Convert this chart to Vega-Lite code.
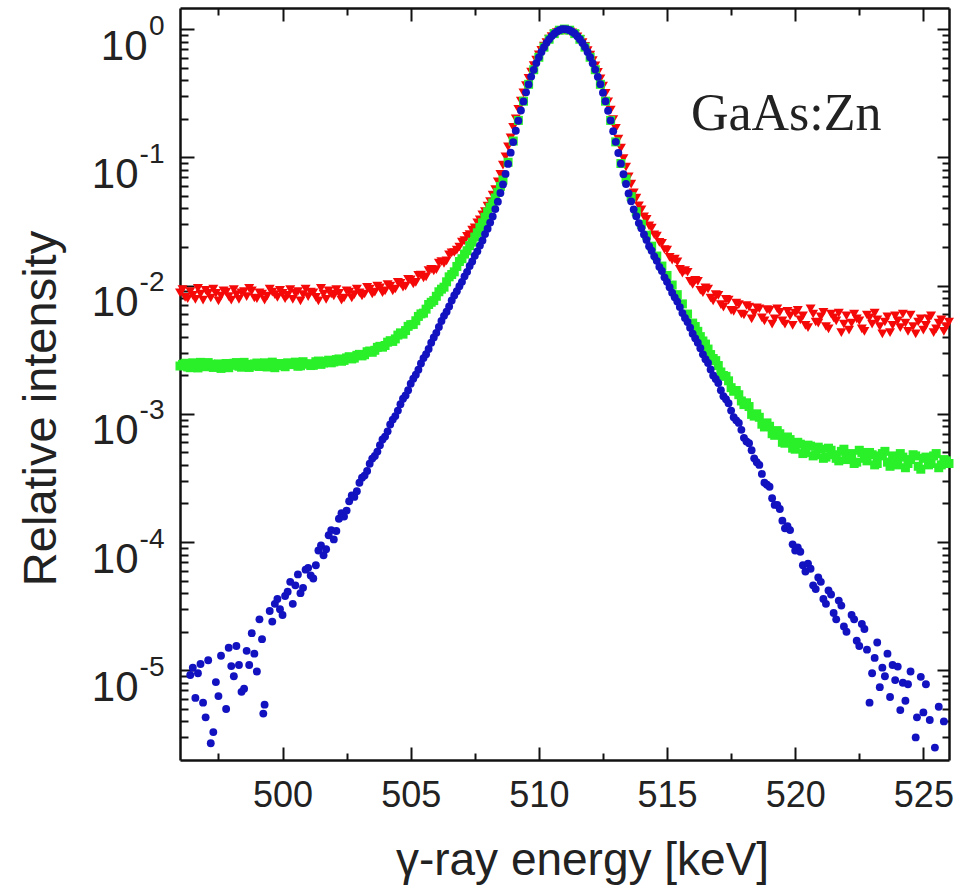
{
"$schema":"https://vega.github.io/schema/vega-lite/v6.json",
"width":769,"height":752,
"autosize":{"type":"none"},
"padding":{"left":180,"top":8,"right":24,"bottom":128},
"background":"white",
"config":{"view":{"stroke":null},"axis":{"grid":false,"domainColor":"#111111","domainWidth":2.5,"tickColor":"#111111","tickWidth":2,"labelFont":"Liberation Sans","titleFont":"Liberation Sans","labelColor":"#222222","titleColor":"#222222","titleFontWeight":"normal","labelOverlap":false,"labelFlush":false,"labelBound":false}},
"data":{"values":[
{"E":496.0,"S":"A","I":0.0088},{"E":496.2,"S":"A","I":0.0081},{"E":496.4,"S":"A","I":0.0090},{"E":496.6,"S":"A","I":0.0078},{"E":496.8,"S":"A","I":0.0086},{"E":497.0,"S":"A","I":0.0092},{"E":497.2,"S":"A","I":0.0080},{"E":497.4,"S":"A","I":0.0087},{"E":497.6,"S":"A","I":0.0083},{"E":497.8,"S":"A","I":0.0089},
{"E":498.0,"S":"A","I":0.0077},{"E":498.2,"S":"A","I":0.0085},{"E":498.4,"S":"A","I":0.0088},{"E":498.6,"S":"A","I":0.0082},{"E":498.8,"S":"A","I":0.0091},{"E":499.0,"S":"A","I":0.0079},{"E":499.2,"S":"A","I":0.0086},{"E":499.4,"S":"A","I":0.0083},{"E":499.6,"S":"A","I":0.0089},{"E":499.8,"S":"A","I":0.0081},
{"E":500.0,"S":"A","I":0.0087},{"E":500.2,"S":"A","I":0.0084},{"E":500.4,"S":"A","I":0.0078},{"E":500.6,"S":"A","I":0.0090},{"E":500.8,"S":"A","I":0.0085},{"E":501.0,"S":"A","I":0.0082},{"E":501.2,"S":"A","I":0.0088},{"E":501.4,"S":"A","I":0.0076},{"E":501.6,"S":"A","I":0.0086},{"E":501.8,"S":"A","I":0.0091},
{"E":502.0,"S":"A","I":0.0083},{"E":502.2,"S":"A","I":0.0087},{"E":502.4,"S":"A","I":0.0080},{"E":502.6,"S":"A","I":0.0089},{"E":502.8,"S":"A","I":0.0085},{"E":503.0,"S":"A","I":0.0088},{"E":503.2,"S":"A","I":0.0086},{"E":503.4,"S":"A","I":0.0094},{"E":503.6,"S":"A","I":0.0089},{"E":503.8,"S":"A","I":0.0096},
{"E":504.0,"S":"A","I":0.0091},{"E":504.2,"S":"A","I":0.0099},{"E":504.4,"S":"A","I":0.0094},{"E":504.6,"S":"A","I":0.0104},{"E":504.8,"S":"A","I":0.0099},{"E":505.0,"S":"A","I":0.0111},{"E":505.2,"S":"A","I":0.0106},{"E":505.4,"S":"A","I":0.0121},{"E":505.6,"S":"A","I":0.0117},{"E":505.8,"S":"A","I":0.0134},
{"E":506.0,"S":"A","I":0.0133},{"E":506.2,"S":"A","I":0.0154},{"E":506.4,"S":"A","I":0.0156},{"E":506.6,"S":"A","I":0.0180},{"E":506.8,"S":"A","I":0.0189},
{"E":496.1,"S":"A","I":0.0093},{"E":496.3,"S":"A","I":0.0079},{"E":496.5,"S":"A","I":0.0084},{"E":496.7,"S":"A","I":0.0095},{"E":496.9,"S":"A","I":0.0077},{"E":497.1,"S":"A","I":0.0087},{"E":497.3,"S":"A","I":0.0094},{"E":497.5,"S":"A","I":0.0076},{"E":497.7,"S":"A","I":0.0091},{"E":497.9,"S":"A","I":0.0082},
{"E":498.1,"S":"A","I":0.0093},{"E":498.3,"S":"A","I":0.0078},{"E":498.5,"S":"A","I":0.0090},{"E":498.7,"S":"A","I":0.0095},{"E":498.9,"S":"A","I":0.0080},{"E":499.1,"S":"A","I":0.0088},{"E":499.3,"S":"A","I":0.0077},{"E":499.5,"S":"A","I":0.0094},{"E":499.7,"S":"A","I":0.0085},{"E":499.9,"S":"A","I":0.0092},
{"E":500.1,"S":"A","I":0.0079},{"E":500.3,"S":"A","I":0.0093},{"E":500.5,"S":"A","I":0.0087},{"E":500.7,"S":"A","I":0.0076},{"E":500.9,"S":"A","I":0.0094},{"E":501.1,"S":"A","I":0.0089},{"E":501.3,"S":"A","I":0.0081},{"E":501.5,"S":"A","I":0.0095},{"E":501.7,"S":"A","I":0.0078},{"E":501.9,"S":"A","I":0.0086},
{"E":502.1,"S":"A","I":0.0093},{"E":502.3,"S":"A","I":0.0077},{"E":502.5,"S":"A","I":0.0091},{"E":502.7,"S":"A","I":0.0080},{"E":502.9,"S":"A","I":0.0094},{"E":503.1,"S":"A","I":0.0083},{"E":503.3,"S":"A","I":0.0097},{"E":503.5,"S":"A","I":0.0086},{"E":503.7,"S":"A","I":0.0099},{"E":503.9,"S":"A","I":0.0088},
{"E":504.1,"S":"A","I":0.0102},{"E":504.3,"S":"A","I":0.0091},{"E":504.5,"S":"A","I":0.0106},{"E":504.7,"S":"A","I":0.0097},{"E":504.9,"S":"A","I":0.0112},{"E":505.1,"S":"A","I":0.0103},{"E":505.3,"S":"A","I":0.0120},{"E":505.5,"S":"A","I":0.0115},{"E":505.7,"S":"A","I":0.0131},{"E":505.9,"S":"A","I":0.0130},
{"E":506.1,"S":"A","I":0.0150},{"E":506.3,"S":"A","I":0.0149},{"E":506.5,"S":"A","I":0.0174},{"E":506.7,"S":"A","I":0.0181},{"E":506.9,"S":"A","I":0.0200},
{"E":507.0,"S":"A","I":0.0218},{"E":507.1,"S":"A","I":0.0224},{"E":507.2,"S":"A","I":0.0242},{"E":507.3,"S":"A","I":0.0250},{"E":507.4,"S":"A","I":0.0271},{"E":507.5,"S":"A","I":0.0282},{"E":507.6,"S":"A","I":0.0309},{"E":507.7,"S":"A","I":0.0325},{"E":507.8,"S":"A","I":0.0356},{"E":507.9,"S":"A","I":0.0377},
{"E":508.0,"S":"A","I":0.0417},{"E":508.1,"S":"A","I":0.0451},{"E":508.2,"S":"A","I":0.0508},{"E":508.3,"S":"A","I":0.0561},{"E":508.4,"S":"A","I":0.0645},{"E":508.5,"S":"A","I":0.0737},{"E":508.6,"S":"A","I":0.0869},{"E":508.7,"S":"A","I":0.101},{"E":508.8,"S":"A","I":0.121},{"E":508.9,"S":"A","I":0.142},
{"E":509.0,"S":"A","I":0.171},{"E":509.1,"S":"A","I":0.200},{"E":509.2,"S":"A","I":0.237},{"E":509.3,"S":"A","I":0.274},{"E":509.4,"S":"A","I":0.318},{"E":509.5,"S":"A","I":0.362},{"E":509.6,"S":"A","I":0.413},{"E":509.7,"S":"A","I":0.463},{"E":509.8,"S":"A","I":0.519},{"E":509.9,"S":"A","I":0.572},
{"E":510.0,"S":"A","I":0.629},{"E":510.1,"S":"A","I":0.683},{"E":510.2,"S":"A","I":0.738},{"E":510.3,"S":"A","I":0.786},{"E":510.4,"S":"A","I":0.835},{"E":510.5,"S":"A","I":0.875},{"E":510.6,"S":"A","I":0.913},{"E":510.7,"S":"A","I":0.939},{"E":510.8,"S":"A","I":0.962},{"E":510.9,"S":"A","I":0.973},
{"E":511.0,"S":"A","I":0.978},{"E":511.1,"S":"A","I":0.970},{"E":511.2,"S":"A","I":0.959},{"E":511.3,"S":"A","I":0.936},{"E":511.4,"S":"A","I":0.910},{"E":511.5,"S":"A","I":0.872},{"E":511.6,"S":"A","I":0.832},{"E":511.7,"S":"A","I":0.783},{"E":511.8,"S":"A","I":0.735},{"E":511.9,"S":"A","I":0.680},
{"E":512.0,"S":"A","I":0.626},{"E":512.1,"S":"A","I":0.569},{"E":512.2,"S":"A","I":0.516},{"E":512.3,"S":"A","I":0.460},{"E":512.4,"S":"A","I":0.410},{"E":512.5,"S":"A","I":0.359},{"E":512.6,"S":"A","I":0.315},{"E":512.7,"S":"A","I":0.271},{"E":512.8,"S":"A","I":0.234},{"E":512.9,"S":"A","I":0.197},
{"E":513.0,"S":"A","I":0.168},{"E":513.1,"S":"A","I":0.139},{"E":513.2,"S":"A","I":0.118},{"E":513.3,"S":"A","I":0.0980},{"E":513.4,"S":"A","I":0.0841},{"E":513.5,"S":"A","I":0.0705},{"E":513.6,"S":"A","I":0.0618},{"E":513.7,"S":"A","I":0.0529},{"E":513.8,"S":"A","I":0.0481},{"E":513.9,"S":"A","I":0.0419},
{"E":514.0,"S":"A","I":0.0390},{"E":514.1,"S":"A","I":0.0344},{"E":514.2,"S":"A","I":0.0328},{"E":514.3,"S":"A","I":0.0292},{"E":514.4,"S":"A","I":0.0281},{"E":514.5,"S":"A","I":0.0249},{"E":514.6,"S":"A","I":0.0243},{"E":514.7,"S":"A","I":0.0217},{"E":514.8,"S":"A","I":0.0214},{"E":514.9,"S":"A","I":0.0191},
{"E":515.0,"S":"A","I":0.0189},{"E":515.2,"S":"A","I":0.0158},{"E":515.4,"S":"A","I":0.0153},{"E":515.6,"S":"A","I":0.0125},{"E":515.8,"S":"A","I":0.0127},{"E":516.0,"S":"A","I":0.0102},{"E":516.2,"S":"A","I":0.0108},{"E":516.4,"S":"A","I":0.0088},{"E":516.6,"S":"A","I":0.0094},{"E":516.8,"S":"A","I":0.0076},
{"E":517.0,"S":"A","I":0.0084},{"E":517.2,"S":"A","I":0.0068},{"E":517.4,"S":"A","I":0.0077},{"E":517.6,"S":"A","I":0.0063},{"E":517.8,"S":"A","I":0.0071},{"E":518.0,"S":"A","I":0.0059},{"E":518.2,"S":"A","I":0.0068},{"E":518.4,"S":"A","I":0.0061},{"E":518.6,"S":"A","I":0.0066},{"E":518.8,"S":"A","I":0.0053},
{"E":519.0,"S":"A","I":0.0064},{"E":519.2,"S":"A","I":0.0055},{"E":519.4,"S":"A","I":0.0062},{"E":519.6,"S":"A","I":0.0050},{"E":519.8,"S":"A","I":0.0058},{"E":520.0,"S":"A","I":0.0061},{"E":520.2,"S":"A","I":0.0054},{"E":520.4,"S":"A","I":0.0049},{"E":520.6,"S":"A","I":0.0066},{"E":520.8,"S":"A","I":0.0052},
{"E":521.0,"S":"A","I":0.0057},{"E":521.2,"S":"A","I":0.0048},{"E":521.4,"S":"A","I":0.0060},{"E":521.6,"S":"A","I":0.0053},{"E":521.8,"S":"A","I":0.0043},{"E":522.0,"S":"A","I":0.0058},{"E":522.2,"S":"A","I":0.0051},{"E":522.4,"S":"A","I":0.0055},{"E":522.6,"S":"A","I":0.0046},{"E":522.8,"S":"A","I":0.0059},
{"E":523.0,"S":"A","I":0.0050},{"E":523.2,"S":"A","I":0.0054},{"E":523.4,"S":"A","I":0.0042},{"E":523.6,"S":"A","I":0.0057},{"E":523.8,"S":"A","I":0.0049},{"E":524.0,"S":"A","I":0.0053},{"E":524.2,"S":"A","I":0.0060},{"E":524.4,"S":"A","I":0.0044},{"E":524.6,"S":"A","I":0.0048},{"E":524.8,"S":"A","I":0.0052},
{"E":525.0,"S":"A","I":0.0045},{"E":525.2,"S":"A","I":0.0055},{"E":525.4,"S":"A","I":0.0043},{"E":525.6,"S":"A","I":0.0051},{"E":525.8,"S":"A","I":0.0044},{"E":526.0,"S":"A","I":0.0052},
{"E":515.1,"S":"A","I":0.0166},{"E":515.3,"S":"A","I":0.0161},{"E":515.5,"S":"A","I":0.0134},{"E":515.7,"S":"A","I":0.0131},{"E":515.9,"S":"A","I":0.0108},{"E":516.1,"S":"A","I":0.0110},{"E":516.3,"S":"A","I":0.0092},{"E":516.5,"S":"A","I":0.0096},{"E":516.7,"S":"A","I":0.0080},{"E":516.9,"S":"A","I":0.0085},
{"E":517.1,"S":"A","I":0.0071},{"E":517.3,"S":"A","I":0.0078},{"E":517.5,"S":"A","I":0.0064},{"E":517.7,"S":"A","I":0.0073},{"E":517.9,"S":"A","I":0.0060},{"E":518.1,"S":"A","I":0.0070},{"E":518.3,"S":"A","I":0.0055},{"E":518.5,"S":"A","I":0.0067},{"E":518.7,"S":"A","I":0.0056},{"E":518.9,"S":"A","I":0.0065},
{"E":519.1,"S":"A","I":0.0050},{"E":519.3,"S":"A","I":0.0066},{"E":519.5,"S":"A","I":0.0053},{"E":519.7,"S":"A","I":0.0063},{"E":519.9,"S":"A","I":0.0049},{"E":520.1,"S":"A","I":0.0064},{"E":520.3,"S":"A","I":0.0058},{"E":520.5,"S":"A","I":0.0047},{"E":520.7,"S":"A","I":0.0060},{"E":520.9,"S":"A","I":0.0051},
{"E":521.1,"S":"A","I":0.0062},{"E":521.3,"S":"A","I":0.0046},{"E":521.5,"S":"A","I":0.0056},{"E":521.7,"S":"A","I":0.0061},{"E":521.9,"S":"A","I":0.0050},{"E":522.1,"S":"A","I":0.0045},{"E":522.3,"S":"A","I":0.0060},{"E":522.5,"S":"A","I":0.0053},{"E":522.7,"S":"A","I":0.0044},{"E":522.9,"S":"A","I":0.0056},
{"E":523.1,"S":"A","I":0.0061},{"E":523.3,"S":"A","I":0.0048},{"E":523.5,"S":"A","I":0.0052},{"E":523.7,"S":"A","I":0.0043},{"E":523.9,"S":"A","I":0.0058},{"E":524.1,"S":"A","I":0.0047},{"E":524.3,"S":"A","I":0.0051},{"E":524.5,"S":"A","I":0.0059},{"E":524.7,"S":"A","I":0.0042},{"E":524.9,"S":"A","I":0.0055},
{"E":525.1,"S":"A","I":0.0049},{"E":525.3,"S":"A","I":0.0058},{"E":525.5,"S":"A","I":0.0046},{"E":525.7,"S":"A","I":0.0054},{"E":525.9,"S":"A","I":0.0048},
{"E":496.0,"S":"B","I":0.00236},{"E":496.2,"S":"B","I":0.00248},{"E":496.4,"S":"B","I":0.00229},{"E":496.6,"S":"B","I":0.00241},{"E":496.8,"S":"B","I":0.00252},{"E":497.0,"S":"B","I":0.00233},{"E":497.2,"S":"B","I":0.00244},{"E":497.4,"S":"B","I":0.00238},{"E":497.6,"S":"B","I":0.00226},{"E":497.8,"S":"B","I":0.00247},
{"E":498.0,"S":"B","I":0.00239},{"E":498.2,"S":"B","I":0.00251},{"E":498.4,"S":"B","I":0.00231},{"E":498.6,"S":"B","I":0.00243},{"E":498.8,"S":"B","I":0.00236},{"E":499.0,"S":"B","I":0.00249},{"E":499.2,"S":"B","I":0.00241},{"E":499.4,"S":"B","I":0.00232},{"E":499.6,"S":"B","I":0.00253},{"E":499.8,"S":"B","I":0.00244},
{"E":500.0,"S":"B","I":0.00238},{"E":500.2,"S":"B","I":0.00250},{"E":500.4,"S":"B","I":0.00242},{"E":500.6,"S":"B","I":0.00235},{"E":500.8,"S":"B","I":0.00255},{"E":501.0,"S":"B","I":0.00246},{"E":501.2,"S":"B","I":0.00239},{"E":501.4,"S":"B","I":0.00258},{"E":501.6,"S":"B","I":0.00249},{"E":501.8,"S":"B","I":0.00262},
{"E":502.0,"S":"B","I":0.00254},{"E":502.2,"S":"B","I":0.00268},{"E":502.4,"S":"B","I":0.00261},{"E":502.6,"S":"B","I":0.00279},{"E":502.8,"S":"B","I":0.00272},{"E":503.0,"S":"B","I":0.00291},{"E":503.2,"S":"B","I":0.00289},{"E":503.4,"S":"B","I":0.00309},{"E":503.6,"S":"B","I":0.00313},{"E":503.8,"S":"B","I":0.00336},
{"E":504.0,"S":"B","I":0.00341},{"E":504.2,"S":"B","I":0.00372},{"E":504.4,"S":"B","I":0.00384},{"E":504.6,"S":"B","I":0.00428},{"E":504.8,"S":"B","I":0.00446},{"E":505.0,"S":"B","I":0.00496},{"E":505.2,"S":"B","I":0.00532},{"E":505.4,"S":"B","I":0.00602},{"E":505.6,"S":"B","I":0.00655},{"E":505.8,"S":"B","I":0.00741},
{"E":506.0,"S":"B","I":0.00825},{"E":506.2,"S":"B","I":0.00938},{"E":506.4,"S":"B","I":0.0107},{"E":506.6,"S":"B","I":0.0122},{"E":506.8,"S":"B","I":0.0141},
{"E":496.1,"S":"B","I":0.00243},{"E":496.3,"S":"B","I":0.00232},{"E":496.5,"S":"B","I":0.00250},{"E":496.7,"S":"B","I":0.00228},{"E":496.9,"S":"B","I":0.00240},{"E":497.1,"S":"B","I":0.00251},{"E":497.3,"S":"B","I":0.00230},{"E":497.5,"S":"B","I":0.00245},{"E":497.7,"S":"B","I":0.00237},{"E":497.9,"S":"B","I":0.00229},
{"E":498.1,"S":"B","I":0.00248},{"E":498.3,"S":"B","I":0.00235},{"E":498.5,"S":"B","I":0.00252},{"E":498.7,"S":"B","I":0.00230},{"E":498.9,"S":"B","I":0.00245},{"E":499.1,"S":"B","I":0.00234},{"E":499.3,"S":"B","I":0.00250},{"E":499.5,"S":"B","I":0.00240},{"E":499.7,"S":"B","I":0.00229},{"E":499.9,"S":"B","I":0.00247},
{"E":500.1,"S":"B","I":0.00233},{"E":500.3,"S":"B","I":0.00246},{"E":500.5,"S":"B","I":0.00253},{"E":500.7,"S":"B","I":0.00237},{"E":500.9,"S":"B","I":0.00244},{"E":501.1,"S":"B","I":0.00238},{"E":501.3,"S":"B","I":0.00255},{"E":501.5,"S":"B","I":0.00243},{"E":501.7,"S":"B","I":0.00257},{"E":501.9,"S":"B","I":0.00250},
{"E":502.1,"S":"B","I":0.00265},{"E":502.3,"S":"B","I":0.00257},{"E":502.5,"S":"B","I":0.00273},{"E":502.7,"S":"B","I":0.00268},{"E":502.9,"S":"B","I":0.00286},{"E":503.1,"S":"B","I":0.00283},{"E":503.3,"S":"B","I":0.00305},{"E":503.5,"S":"B","I":0.00302},{"E":503.7,"S":"B","I":0.00330},{"E":503.9,"S":"B","I":0.00331},
{"E":504.1,"S":"B","I":0.00362},{"E":504.3,"S":"B","I":0.00367},{"E":504.5,"S":"B","I":0.00411},{"E":504.7,"S":"B","I":0.00418},{"E":504.9,"S":"B","I":0.00481},{"E":505.1,"S":"B","I":0.00498},{"E":505.3,"S":"B","I":0.00575},{"E":505.5,"S":"B","I":0.00610},{"E":505.7,"S":"B","I":0.00712},{"E":505.9,"S":"B","I":0.00764},
{"E":506.1,"S":"B","I":0.00895},{"E":506.3,"S":"B","I":0.00972},{"E":506.5,"S":"B","I":0.0117},{"E":506.7,"S":"B","I":0.0128},{"E":506.9,"S":"B","I":0.0154},
{"E":507.0,"S":"B","I":0.0162},{"E":507.1,"S":"B","I":0.0176},{"E":507.2,"S":"B","I":0.0187},{"E":507.3,"S":"B","I":0.0205},{"E":507.4,"S":"B","I":0.0218},
{"E":507.5,"S":"B","I":0.0239},{"E":507.6,"S":"B","I":0.0258},{"E":507.7,"S":"B","I":0.0284},{"E":507.8,"S":"B","I":0.0309},{"E":507.9,"S":"B","I":0.0341},{"E":508.0,"S":"B","I":0.0375},{"E":508.1,"S":"B","I":0.0408},{"E":508.2,"S":"B","I":0.0440},{"E":508.3,"S":"B","I":0.0482},{"E":508.4,"S":"B","I":0.0533},
{"E":508.5,"S":"B","I":0.0593},{"E":508.6,"S":"B","I":0.0665},{"E":508.8,"S":"B","I":0.0915},{"E":509.0,"S":"B","I":0.134},{"E":509.2,"S":"B","I":0.194},{"E":509.4,"S":"B","I":0.274},{"E":509.6,"S":"B","I":0.371},{"E":509.8,"S":"B","I":0.482},{"E":510.0,"S":"B","I":0.603},{"E":510.2,"S":"B","I":0.723},
{"E":510.4,"S":"B","I":0.833},{"E":510.6,"S":"B","I":0.922},{"E":510.8,"S":"B","I":0.980},{"E":511.0,"S":"B","I":1.0},{"E":511.2,"S":"B","I":0.980},{"E":511.4,"S":"B","I":0.922},{"E":511.6,"S":"B","I":0.833},{"E":511.8,"S":"B","I":0.723},{"E":512.0,"S":"B","I":0.603},{"E":512.2,"S":"B","I":0.482},
{"E":512.4,"S":"B","I":0.371},{"E":512.6,"S":"B","I":0.274},{"E":512.8,"S":"B","I":0.194},{"E":513.0,"S":"B","I":0.132},{"E":513.2,"S":"B","I":0.0895},{"E":513.4,"S":"B","I":0.0677},{"E":513.6,"S":"B","I":0.0494},{"E":513.8,"S":"B","I":0.0377},{"E":514.0,"S":"B","I":0.0301},{"E":514.2,"S":"B","I":0.0247},
{"E":514.4,"S":"B","I":0.0203},{"E":514.6,"S":"B","I":0.0170},{"E":514.8,"S":"B","I":0.0142},{"E":515.0,"S":"B","I":0.0120},{"E":515.2,"S":"B","I":0.0101},{"E":515.4,"S":"B","I":0.0085},{"E":515.6,"S":"B","I":0.0072},{"E":515.8,"S":"B","I":0.0060},{"E":516.0,"S":"B","I":0.0051},{"E":516.2,"S":"B","I":0.0044},
{"E":516.4,"S":"B","I":0.0037},{"E":516.6,"S":"B","I":0.0032},{"E":516.8,"S":"B","I":0.0027},{"E":517.0,"S":"B","I":0.00238},{"E":517.2,"S":"B","I":0.00199},{"E":517.4,"S":"B","I":0.00181},{"E":517.6,"S":"B","I":0.00150},{"E":517.8,"S":"B","I":0.00141},{"E":518.0,"S":"B","I":0.00118},{"E":518.2,"S":"B","I":0.00114},
{"E":518.4,"S":"B","I":0.00096},{"E":518.6,"S":"B","I":0.00094},{"E":518.8,"S":"B","I":0.00079},{"E":519.0,"S":"B","I":0.00080},{"E":519.2,"S":"B","I":0.00068},{"E":519.4,"S":"B","I":0.00070},{"E":519.6,"S":"B","I":0.00059},{"E":519.8,"S":"B","I":0.00063},{"E":520.0,"S":"B","I":0.00053},{"E":520.2,"S":"B","I":0.00058},
{"E":520.4,"S":"B","I":0.00050},{"E":520.6,"S":"B","I":0.00056},{"E":520.8,"S":"B","I":0.00048},{"E":521.0,"S":"B","I":0.00053},{"E":521.2,"S":"B","I":0.00046},{"E":521.4,"S":"B","I":0.00052},{"E":521.6,"S":"B","I":0.00045},{"E":521.8,"S":"B","I":0.00051},{"E":522.0,"S":"B","I":0.00044},{"E":522.2,"S":"B","I":0.00049},
{"E":522.4,"S":"B","I":0.00042},{"E":522.6,"S":"B","I":0.00050},{"E":522.8,"S":"B","I":0.00043},{"E":523.0,"S":"B","I":0.00048},{"E":523.2,"S":"B","I":0.00041},{"E":523.4,"S":"B","I":0.00049},{"E":523.6,"S":"B","I":0.00042},{"E":523.8,"S":"B","I":0.00047},{"E":524.0,"S":"B","I":0.00040},{"E":524.2,"S":"B","I":0.00046},
{"E":524.4,"S":"B","I":0.00041},{"E":524.6,"S":"B","I":0.00048},{"E":524.8,"S":"B","I":0.00039},{"E":525.0,"S":"B","I":0.00045},{"E":525.2,"S":"B","I":0.00040},{"E":525.4,"S":"B","I":0.00047},{"E":525.6,"S":"B","I":0.00038},{"E":525.8,"S":"B","I":0.00044},{"E":526.0,"S":"B","I":0.00041},
{"E":516.1,"S":"B","I":0.0048},{"E":516.3,"S":"B","I":0.0040},{"E":516.5,"S":"B","I":0.0035},{"E":516.7,"S":"B","I":0.0029},{"E":516.9,"S":"B","I":0.0026},{"E":517.1,"S":"B","I":0.00212},{"E":517.3,"S":"B","I":0.00196},{"E":517.5,"S":"B","I":0.00160},{"E":517.7,"S":"B","I":0.00152},{"E":517.9,"S":"B","I":0.00126},
{"E":518.1,"S":"B","I":0.00122},{"E":518.3,"S":"B","I":0.00099},{"E":518.5,"S":"B","I":0.00100},{"E":518.7,"S":"B","I":0.00083},{"E":518.9,"S":"B","I":0.00085},{"E":519.1,"S":"B","I":0.00070},{"E":519.3,"S":"B","I":0.00074},{"E":519.5,"S":"B","I":0.00060},{"E":519.7,"S":"B","I":0.00066},{"E":519.9,"S":"B","I":0.00054},
{"E":520.1,"S":"B","I":0.00060},{"E":520.3,"S":"B","I":0.00049},{"E":520.5,"S":"B","I":0.00057},{"E":520.7,"S":"B","I":0.00047},{"E":520.9,"S":"B","I":0.00055},{"E":521.1,"S":"B","I":0.00045},{"E":521.3,"S":"B","I":0.00054},{"E":521.5,"S":"B","I":0.00048},{"E":521.7,"S":"B","I":0.00043},{"E":521.9,"S":"B","I":0.00053},
{"E":522.1,"S":"B","I":0.00046},{"E":522.3,"S":"B","I":0.00041},{"E":522.5,"S":"B","I":0.00052},{"E":522.7,"S":"B","I":0.00045},{"E":522.9,"S":"B","I":0.00050},{"E":523.1,"S":"B","I":0.00040},{"E":523.3,"S":"B","I":0.00047},{"E":523.5,"S":"B","I":0.00051},{"E":523.7,"S":"B","I":0.00039},{"E":523.9,"S":"B","I":0.00045},
{"E":524.1,"S":"B","I":0.00049},{"E":524.3,"S":"B","I":0.00038},{"E":524.5,"S":"B","I":0.00044},{"E":524.7,"S":"B","I":0.00047},{"E":524.9,"S":"B","I":0.00037},{"E":525.1,"S":"B","I":0.00046},{"E":525.3,"S":"B","I":0.00041},{"E":525.5,"S":"B","I":0.00049},{"E":525.7,"S":"B","I":0.00040},{"E":525.9,"S":"B","I":0.00043},
{"E":496.4,"S":"C","I":9.2e-6},{"E":496.5,"S":"C","I":1.05e-5},{"E":496.6,"S":"C","I":6.1e-6},{"E":496.7,"S":"C","I":9.5e-6},{"E":496.8,"S":"C","I":1.12e-5},{"E":496.9,"S":"C","I":5.6e-6},{"E":497.0,"S":"C","I":4.3e-6},{"E":497.1,"S":"C","I":1.2e-5},{"E":497.2,"S":"C","I":2.7e-6},{"E":497.3,"S":"C","I":3.3e-6},{"E":497.4,"S":"C","I":8.1e-6},
{"E":497.5,"S":"C","I":6.3e-6},{"E":497.6,"S":"C","I":1.3e-5},{"E":497.8,"S":"C","I":5.0e-6},{"E":497.9,"S":"C","I":1.5e-5},{"E":498.0,"S":"C","I":1.08e-5},{"E":498.1,"S":"C","I":9.0e-6},{"E":498.2,"S":"C","I":1.55e-5},{"E":498.3,"S":"C","I":1.1e-5},{"E":498.4,"S":"C","I":6.8e-6},{"E":498.5,"S":"C","I":7.2e-6},{"E":498.6,"S":"C","I":1.42e-5},
{"E":498.7,"S":"C","I":1.1e-5},{"E":498.8,"S":"C","I":1.95e-5},{"E":498.9,"S":"C","I":1.35e-5},{"E":499.0,"S":"C","I":9.8e-6},{"E":499.1,"S":"C","I":2.5e-5},{"E":499.2,"S":"C","I":1.75e-5},{"E":499.25,"S":"C","I":4.6e-6},{"E":499.3,"S":"C","I":5.4e-6},{"E":499.5,"S":"C","I":2.9e-5},{"E":499.6,"S":"C","I":2.4e-5},{"E":499.7,"S":"C","I":3.3e-5},{"E":499.8,"S":"C","I":3.6e-5},
{"E":499.9,"S":"C","I":3.0e-5},{"E":500.0,"S":"C","I":2.7e-5},{"E":500.1,"S":"C","I":3.8e-5},{"E":500.2,"S":"C","I":4.1e-5},{"E":500.3,"S":"C","I":4.9e-5},{"E":500.4,"S":"C","I":3.3e-5},{"E":500.5,"S":"C","I":4.6e-5},{"E":500.6,"S":"C","I":5.6e-5},{"E":500.7,"S":"C","I":4.0e-5},{"E":500.8,"S":"C","I":4.4e-5},{"E":500.9,"S":"C","I":6.1e-5},{"E":501.0,"S":"C","I":6.3e-5},{"E":501.1,"S":"C","I":5.5e-5},
{"E":501.2,"S":"C","I":5.2e-5},{"E":501.3,"S":"C","I":6.6e-5},{"E":501.4,"S":"C","I":8.6e-5},{"E":501.5,"S":"C","I":9.4e-5},{"E":501.6,"S":"C","I":7.9e-5},{"E":501.7,"S":"C","I":8.8e-5},{"E":501.8,"S":"C","I":1.13e-4},{"E":501.9,"S":"C","I":1.24e-4},{"E":502.0,"S":"C","I":1.05e-4},{"E":502.1,"S":"C","I":1.22e-4},{"E":502.2,"S":"C","I":1.52e-4},{"E":502.3,"S":"C","I":1.68e-4},{"E":502.4,"S":"C","I":1.58e-4},{"E":502.5,"S":"C","I":1.76e-4},{"E":502.6,"S":"C","I":2.08e-4},{"E":502.7,"S":"C","I":2.31e-4},{"E":502.8,"S":"C","I":2.25e-4},{"E":502.9,"S":"C","I":2.49e-4},{"E":503.0,"S":"C","I":2.90e-4},
{"E":503.1,"S":"C","I":3.18e-4},{"E":503.2,"S":"C","I":3.30e-4},{"E":503.3,"S":"C","I":3.58e-4},{"E":503.4,"S":"C","I":4.08e-4},{"E":503.5,"S":"C","I":4.48e-4},{"E":503.6,"S":"C","I":4.70e-4},{"E":503.7,"S":"C","I":5.08e-4},{"E":503.8,"S":"C","I":5.70e-4},{"E":503.9,"S":"C","I":6.31e-4},{"E":504.0,"S":"C","I":6.65e-4},{"E":504.1,"S":"C","I":7.30e-4},{"E":504.2,"S":"C","I":8.25e-4},{"E":504.3,"S":"C","I":9.02e-4},{"E":504.4,"S":"C","I":9.60e-4},{"E":504.5,"S":"C","I":1.06e-3},{"E":504.6,"S":"C","I":1.19e-3},{"E":504.7,"S":"C","I":1.31e-3},{"E":504.8,"S":"C","I":1.39e-3},{"E":504.9,"S":"C","I":1.53e-3},{"E":505.0,"S":"C","I":1.72e-3},
{"E":505.1,"S":"C","I":1.88e-3},{"E":505.2,"S":"C","I":2.02e-3},{"E":505.3,"S":"C","I":2.21e-3},{"E":505.4,"S":"C","I":2.47e-3},{"E":505.5,"S":"C","I":2.72e-3},{"E":505.6,"S":"C","I":2.92e-3},{"E":505.7,"S":"C","I":3.20e-3},{"E":505.8,"S":"C","I":3.58e-3},{"E":505.9,"S":"C","I":3.94e-3},{"E":506.0,"S":"C","I":4.28e-3},{"E":506.1,"S":"C","I":4.75e-3},{"E":506.2,"S":"C","I":5.30e-3},{"E":506.3,"S":"C","I":5.81e-3},{"E":506.4,"S":"C","I":6.25e-3},{"E":506.5,"S":"C","I":6.88e-3},{"E":506.6,"S":"C","I":7.65e-3},{"E":506.7,"S":"C","I":8.37e-3},{"E":506.8,"S":"C","I":9.05e-3},{"E":506.9,"S":"C","I":9.9e-3},
{"E":507.0,"S":"C","I":0.0107},{"E":507.1,"S":"C","I":0.0118},{"E":507.2,"S":"C","I":0.0128},{"E":507.3,"S":"C","I":0.0142},{"E":507.4,"S":"C","I":0.0154},{"E":507.5,"S":"C","I":0.0171},{"E":507.6,"S":"C","I":0.0185},{"E":507.7,"S":"C","I":0.0205},{"E":507.8,"S":"C","I":0.0225},{"E":507.9,"S":"C","I":0.0252},
{"E":508.0,"S":"C","I":0.0278},{"E":508.1,"S":"C","I":0.0310},{"E":508.2,"S":"C","I":0.0346},{"E":508.3,"S":"C","I":0.0395},{"E":508.4,"S":"C","I":0.0451},{"E":508.5,"S":"C","I":0.0527},{"E":508.6,"S":"C","I":0.0615},{"E":508.7,"S":"C","I":0.0743},{"E":508.8,"S":"C","I":0.0889},{"E":508.9,"S":"C","I":0.1087},
{"E":509.0,"S":"C","I":0.1315},{"E":509.1,"S":"C","I":0.161},{"E":509.2,"S":"C","I":0.193},{"E":509.3,"S":"C","I":0.232},{"E":509.4,"S":"C","I":0.273},{"E":509.5,"S":"C","I":0.321},{"E":509.6,"S":"C","I":0.370},{"E":509.7,"S":"C","I":0.426},{"E":509.8,"S":"C","I":0.481},{"E":509.9,"S":"C","I":0.543},
{"E":510.0,"S":"C","I":0.602},{"E":510.1,"S":"C","I":0.664},{"E":510.2,"S":"C","I":0.722},{"E":510.3,"S":"C","I":0.781},{"E":510.4,"S":"C","I":0.832},{"E":510.5,"S":"C","I":0.882},{"E":510.6,"S":"C","I":0.921},{"E":510.7,"S":"C","I":0.956},{"E":510.8,"S":"C","I":0.979},{"E":510.9,"S":"C","I":0.996},
{"E":511.0,"S":"C","I":1.0},{"E":511.1,"S":"C","I":0.994},{"E":511.2,"S":"C","I":0.981},{"E":511.3,"S":"C","I":0.954},{"E":511.4,"S":"C","I":0.923},{"E":511.5,"S":"C","I":0.880},{"E":511.6,"S":"C","I":0.834},{"E":511.7,"S":"C","I":0.779},{"E":511.8,"S":"C","I":0.724},{"E":511.9,"S":"C","I":0.662},
{"E":512.0,"S":"C","I":0.604},{"E":512.1,"S":"C","I":0.541},{"E":512.2,"S":"C","I":0.483},{"E":512.3,"S":"C","I":0.424},{"E":512.4,"S":"C","I":0.372},{"E":512.5,"S":"C","I":0.319},{"E":512.6,"S":"C","I":0.274},{"E":512.7,"S":"C","I":0.231},{"E":512.8,"S":"C","I":0.194},{"E":512.9,"S":"C","I":0.160},
{"E":513.0,"S":"C","I":0.1320},{"E":513.1,"S":"C","I":0.1082},{"E":513.2,"S":"C","I":0.0893},{"E":513.3,"S":"C","I":0.0739},{"E":513.4,"S":"C","I":0.0619},{"E":513.5,"S":"C","I":0.0523},{"E":513.6,"S":"C","I":0.0454},{"E":513.7,"S":"C","I":0.0392},{"E":513.8,"S":"C","I":0.0348},{"E":513.9,"S":"C","I":0.0307},
{"E":514.0,"S":"C","I":0.0280},{"E":514.1,"S":"C","I":0.0250},{"E":514.2,"S":"C","I":0.0227},{"E":514.3,"S":"C","I":0.0203},{"E":514.4,"S":"C","I":0.0187},{"E":514.5,"S":"C","I":0.0169},{"E":514.6,"S":"C","I":0.0156},{"E":514.7,"S":"C","I":0.0140},{"E":514.8,"S":"C","I":0.0130},{"E":514.9,"S":"C","I":0.0116},
{"E":515.0,"S":"C","I":0.0107},{"E":515.1,"S":"C","I":0.0097},{"E":515.2,"S":"C","I":0.0088},{"E":515.3,"S":"C","I":0.0081},{"E":515.4,"S":"C","I":0.0075},{"E":515.5,"S":"C","I":0.0068},{"E":515.6,"S":"C","I":0.0061},{"E":515.7,"S":"C","I":0.0056},{"E":515.8,"S":"C","I":0.0052},{"E":515.9,"S":"C","I":0.0047},{"E":516.0,"S":"C","I":0.00421},{"E":516.1,"S":"C","I":0.00388},{"E":516.2,"S":"C","I":0.00359},{"E":516.3,"S":"C","I":0.00325},{"E":516.4,"S":"C","I":0.00291},{"E":516.5,"S":"C","I":0.00267},{"E":516.6,"S":"C","I":0.00249},{"E":516.7,"S":"C","I":0.00222},{"E":516.8,"S":"C","I":0.00199},{"E":516.9,"S":"C","I":0.00187},
{"E":517.0,"S":"C","I":0.00174},{"E":517.1,"S":"C","I":0.00153},{"E":517.2,"S":"C","I":0.00137},{"E":517.3,"S":"C","I":0.00130},{"E":517.4,"S":"C","I":0.00121},{"E":517.5,"S":"C","I":0.00106},{"E":517.6,"S":"C","I":0.00094},{"E":517.7,"S":"C","I":0.00089},{"E":517.8,"S":"C","I":0.00085},{"E":517.9,"S":"C","I":0.00075},{"E":518.0,"S":"C","I":0.00065},{"E":518.1,"S":"C","I":0.00061},{"E":518.2,"S":"C","I":0.00059},{"E":518.3,"S":"C","I":0.00052},{"E":518.4,"S":"C","I":0.00045},{"E":518.5,"S":"C","I":0.00042},{"E":518.6,"S":"C","I":0.00040},{"E":518.7,"S":"C","I":0.00034},{"E":518.8,"S":"C","I":0.00029},{"E":518.9,"S":"C","I":0.00028},
{"E":519.0,"S":"C","I":0.00027},{"E":519.1,"S":"C","I":0.00022},{"E":519.2,"S":"C","I":0.000195},{"E":519.3,"S":"C","I":0.000195},{"E":519.4,"S":"C","I":0.000181},{"E":519.5,"S":"C","I":0.000147},{"E":519.6,"S":"C","I":0.000128},{"E":519.7,"S":"C","I":0.000133},{"E":519.8,"S":"C","I":0.000124},{"E":519.9,"S":"C","I":9.6e-5},{"E":520.0,"S":"C","I":8.6e-5},{"E":520.1,"S":"C","I":9.1e-5},{"E":520.2,"S":"C","I":8.4e-5},{"E":520.3,"S":"C","I":6.6e-5},{"E":520.4,"S":"C","I":5.9e-5},{"E":520.5,"S":"C","I":6.8e-5},{"E":520.6,"S":"C","I":6.2e-5},{"E":520.7,"S":"C","I":4.6e-5},{"E":520.8,"S":"C","I":4.3e-5},{"E":520.9,"S":"C","I":5.3e-5},
{"E":521.0,"S":"C","I":4.9e-5},{"E":521.1,"S":"C","I":3.6e-5},{"E":521.2,"S":"C","I":3.3e-5},{"E":521.3,"S":"C","I":4.2e-5},{"E":521.4,"S":"C","I":3.9e-5},{"E":521.5,"S":"C","I":2.8e-5},{"E":521.6,"S":"C","I":2.5e-5},{"E":521.7,"S":"C","I":3.5e-5},{"E":521.8,"S":"C","I":3.2e-5},{"E":521.9,"S":"C","I":2.2e-5},{"E":522.0,"S":"C","I":2.0e-5},{"E":522.2,"S":"C","I":2.7e-5},{"E":522.3,"S":"C","I":2.5e-5},{"E":522.4,"S":"C","I":1.7e-5},{"E":522.5,"S":"C","I":1.55e-5},{"E":522.6,"S":"C","I":2.3e-5},{"E":522.7,"S":"C","I":2.1e-5},{"E":522.8,"S":"C","I":1.45e-5},
{"E":522.9,"S":"C","I":5.6e-6},{"E":523.0,"S":"C","I":9.5e-6},{"E":523.1,"S":"C","I":1.25e-5},{"E":523.2,"S":"C","I":1.65e-5},{"E":523.3,"S":"C","I":7.4e-6},{"E":523.4,"S":"C","I":1.05e-5},{"E":523.5,"S":"C","I":9.0e-6},{"E":523.6,"S":"C","I":1.35e-5},{"E":523.7,"S":"C","I":6.2e-6},{"E":523.8,"S":"C","I":1.1e-5},{"E":523.9,"S":"C","I":8.4e-6},{"E":524.0,"S":"C","I":1.07e-5},{"E":524.1,"S":"C","I":4.9e-6},
{"E":524.2,"S":"C","I":8.0e-6},{"E":524.3,"S":"C","I":5.8e-6},{"E":524.4,"S":"C","I":7.8e-6},{"E":524.5,"S":"C","I":9.8e-6},{"E":524.7,"S":"C","I":3.0e-6},{"E":524.75,"S":"C","I":4.3e-6},{"E":524.9,"S":"C","I":8.9e-6},{"E":525.0,"S":"C","I":4.7e-6},{"E":525.1,"S":"C","I":7.8e-6},{"E":525.25,"S":"C","I":4.1e-6},{"E":525.45,"S":"C","I":2.5e-6},
{"E":525.6,"S":"C","I":5.2e-6},{"E":525.8,"S":"C","I":4.0e-6}
]},
"layer":[
{"mark":{"type":"point","filled":true,"opacity":1,"strokeWidth":0},
 "encoding":{
  "x":{"field":"E","type":"quantitative","scale":{"domain":[496,526],"nice":false,"zero":false},
   "axis":{"orient":"bottom","values":[497.5,500,502.5,505,507.5,510,512.5,515,517.5,520,522.5,525],
    "tickSize":{"condition":{"test":"datum.value % 5 === 0","value":-13},"value":-7},
    "labelExpr":"datum.value % 5 === 0 ? datum.label : ''","labelFontSize":36,"labelPadding":31,
    "title":"γ-ray energy [keV]","titleFontSize":46,"titleX":402,"titleY":114,"titleBaseline":"alphabetic","titleAnchor":"middle"}},
  "y":{"field":"I","type":"quantitative","scale":{"type":"log","domain":[2e-6,1.46],"nice":false},
   "axis":{"orient":"left","values":[3e-6,4e-6,5e-6,6e-6,7e-6,8e-6,9e-6,1e-5,2e-5,3e-5,4e-5,5e-5,6e-5,7e-5,8e-5,9e-5,1e-4,2e-4,3e-4,4e-4,5e-4,6e-4,7e-4,8e-4,9e-4,1e-3,2e-3,3e-3,4e-3,5e-3,6e-3,7e-3,8e-3,9e-3,1e-2,2e-2,3e-2,4e-2,5e-2,6e-2,7e-2,8e-2,9e-2,0.1,0.2,0.3,0.4,0.5,0.6,0.7,0.8,0.9,1],
    "tickSize":{"condition":{"test":"abs(log(datum.value)/LN10 - round(log(datum.value)/LN10)) < 0.001","value":-14},"value":-8},
    "labels":false,"title":"Relative intensity","titleFontSize":47,"titleX":-125,"titleY":400,"titleAngle":-90,"titleAlign":"center","titleBaseline":"alphabetic"}},
  "color":{"field":"S","type":"nominal","scale":{"domain":["A","B","C"],"range":["#f50808","#2af02a","#1212c0"]},"legend":null},
  "shape":{"field":"S","type":"nominal","scale":{"domain":["A","B","C"],"range":["triangle-down","square","circle"]},"legend":null},
  "size":{"field":"S","type":"nominal","scale":{"domain":["A","B","C"],"range":[100,62,62]},"legend":null}
 }},
{"data":{"values":[{}]},
 "mark":{"type":"point","opacity":0},
 "encoding":{
  "x":{"datum":511,"type":"quantitative","scale":{"domain":[496,526],"nice":false,"zero":false},
   "axis":{"orient":"top","values":[497.5,500,502.5,505,507.5,510,512.5,515,517.5,520,522.5,525],
    "tickSize":{"condition":{"test":"datum.value % 5 === 0","value":-13},"value":-7},"labels":false,"title":null}},
  "y":{"datum":0.1,"type":"quantitative","scale":{"type":"log","domain":[2e-6,1.46],"nice":false},
   "axis":{"orient":"right","values":[3e-6,4e-6,5e-6,6e-6,7e-6,8e-6,9e-6,1e-5,2e-5,3e-5,4e-5,5e-5,6e-5,7e-5,8e-5,9e-5,1e-4,2e-4,3e-4,4e-4,5e-4,6e-4,7e-4,8e-4,9e-4,1e-3,2e-3,3e-3,4e-3,5e-3,6e-3,7e-3,8e-3,9e-3,1e-2,2e-2,3e-2,4e-2,5e-2,6e-2,7e-2,8e-2,9e-2,0.1,0.2,0.3,0.4,0.5,0.6,0.7,0.8,0.9,1],
    "tickSize":{"condition":{"test":"abs(log(datum.value)/LN10 - round(log(datum.value)/LN10)) < 0.001","value":-12},"value":-7},
    "labels":false,"title":null}}
 }},
{"data":{"values":[{}]},
 "mark":{"type":"point","opacity":0},
 "encoding":{
  "x":{"datum":511,"type":"quantitative","axis":null},
  "y":{"datum":0.1,"type":"quantitative","scale":{"type":"log","domain":[2e-6,1.46],"nice":false},
   "axis":{"orient":"left","values":[1e-5,1e-4,1e-3,1e-2,0.1,1],"ticks":false,"domain":false,"title":null,
    "labelExpr":"'10'","labelFontSize":42,"labelAlign":"right","labelBaseline":"middle","labelOffset":17,
    "labelPadding":{"condition":{"test":"datum.value > 0.5","value":33},"value":42}}}
 }},
{"data":{"values":[{}]},
 "mark":{"type":"point","opacity":0},
 "encoding":{
  "x":{"datum":511,"type":"quantitative","axis":null},
  "y":{"datum":0.1,"type":"quantitative","scale":{"type":"log","domain":[2e-6,1.46],"nice":false},
   "axis":{"orient":"left","values":[1e-5,1e-4,1e-3,1e-2,0.1,1],"ticks":false,"domain":false,"title":null,
    "labelExpr":"'' + round(log(datum.value)/LN10)","labelFontSize":28,"labelAlign":"right","labelBaseline":"middle","labelOffset":-3,"labelPadding":16}}
 }},
{"data":{"values":[{"label":"GaAs:Zn"}]},
 "mark":{"type":"text","font":"Liberation Serif","fontSize":52,"align":"center","baseline":"alphabetic","color":"#222222"},
 "encoding":{
  "x":{"datum":519.65,"type":"quantitative","axis":null},
  "y":{"datum":0.163,"type":"quantitative","axis":null},
  "text":{"field":"label"}
 }}
],
"resolve":{"axis":{"x":"independent","y":"independent"}}
}
